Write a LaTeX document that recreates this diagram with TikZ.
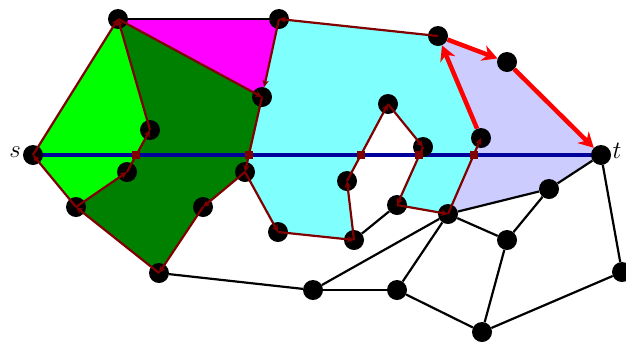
\documentclass[tikz,border=0pt]{standalone}
\usepackage{amsmath,amssymb}
\usetikzlibrary{arrows.meta,backgrounds}
\definecolor{cutGreen}{HTML}{00FF00}
\definecolor{cutDark}{HTML}{008000}
\definecolor{cutMagenta}{HTML}{FF00FF}
\definecolor{cutCyan}{HTML}{80FFFF}
\definecolor{cutLav}{HTML}{CCCCFF}
\definecolor{cutBrown}{HTML}{800000}
\definecolor{cutBlue}{HTML}{00009A}
\definecolor{cutRed}{HTML}{FF0000}
\tikzset{
  % Vertex of the graph: a plain black disc.
  cut/vtx/.style={
    circle, fill=black, minimum size=20pt, inner sep=0pt
  },
  % Face boundaries, oriented; they run into the discs.
  cut/edge/.style={
    -{Stealth[length=7pt,width=6.5pt]}, line width=2.2pt, draw=cutBrown
  },
  % Remaining edges of the graph.
  cut/plain/.style={
    line width=2.2pt, draw=black
  },
  % The path that is picked out.
  cut/path/.style={
    -{Stealth[length=15pt,width=16pt]}, line width=4.5pt, draw=cutRed
  },
  % The s-t segment and where it crosses a boundary.
  cut/line/.style={
    line width=3.2pt, draw=cutBlue
  },
  cut/cross/.style={
    rectangle, fill=cutBrown, minimum size=8pt, inner sep=0pt
  },
  cut/label/.style={
    font=\fontsize{27}{30}\selectfont, inner sep=0pt
  },
}

\begin{document}
\begin{tikzpicture}[x=1pt,y=-1pt]
  \useasboundingbox (0,0) rectangle (626,341);
  \node[cut/vtx] (s)  at (33,155)  {};
  \node[cut/vtx] (t)  at (601,155) {};
  \node[cut/vtx] (a)  at (118,19)  {};
  \node[cut/vtx] (b)  at (279,19)  {};
  \node[cut/vtx] (c)  at (438,36)  {};
  \node[cut/vtx] (d)  at (507,62)  {};
  \node[cut/vtx] (e)  at (150,130) {};
  \node[cut/vtx] (f)  at (127,172) {};
  \node[cut/vtx] (g)  at (76,207)  {};
  \node[cut/vtx] (h)  at (159,273) {};
  \node[cut/vtx] (i)  at (203,207) {};
  \node[cut/vtx] (j)  at (245,172) {};
  \node[cut/vtx] (k)  at (262,97)  {};
  \node[cut/vtx] (l)  at (278,232) {};
  \node[cut/vtx] (m)  at (354,240) {};
  \node[cut/vtx] (n)  at (347,181) {};
  \node[cut/vtx] (o)  at (388,104) {};
  \node[cut/vtx] (p)  at (423,147) {};
  \node[cut/vtx] (q)  at (397,205) {};
  \node[cut/vtx] (r)  at (448,214) {};
  \node[cut/vtx] (sp) at (481,138) {};
  \node[cut/vtx] (u)  at (549,189) {};
  \node[cut/vtx] (v)  at (507,240) {};
  \node[cut/vtx] (w)  at (622,272) {};
  \node[cut/vtx] (x)  at (482,332) {};
  \node[cut/vtx] (y)  at (397,290) {};
  \node[cut/vtx] (z)  at (313,290) {};
  \node[cut/label] (slabel) at (15,152) {$s$};
  \node[cut/label] (tlabel) at (617,151) {$t$};
  % faces
  \begin{scope}[on background layer]
    \fill[cutGreen] (s.center) -- (a.center) -- (e.center) -- (f.center) -- (g.center) -- cycle;
    \fill[cutDark] (a.center) -- (k.center) -- (j.center) -- (i.center) -- (h.center)
      -- (g.center) -- (f.center) -- (e.center) -- cycle;
    \fill[cutMagenta] (a.center) -- (b.center) -- (k.center) -- cycle;
    \fill[cutCyan] (b.center) -- (c.center) -- (sp.center) -- (r.center) -- (q.center)
      -- (p.center) -- (o.center) -- (n.center) -- (m.center) -- (l.center)
      -- (j.center) -- (k.center) -- cycle;
    \fill[cutLav] (c.center) -- (d.center) -- (t.center) -- (u.center) -- (r.center)
      -- (sp.center) -- cycle;
    \draw[cut/line] (s.center) -- (t.center);
  \end{scope}
  \foreach \x/\y in {a/b,h/z,z/y,z/r,y/r,y/x,x/v,x/w,w/t,v/r,v/u,u/t,r/u,m/q}{\draw[cut/plain] (\x) -- (\y);}
  \foreach \x/\y in {g/s,s/a,e/a,f/e,g/f,h/g,i/h,j/i,k/j,a/k,c/b,j/l,l/m,m/n,n/o,o/p,p/q,q/r,r/sp}{\draw[cut/edge] (\x.center) -- (\y.center);}
  \draw[cut/edge] (b.center) -- (k);
  \foreach \x/\y in {sp/c,c/d,d/t}{\draw[cut/path] (\x) -- (\y);}
  \node[cut/cross] (x1) at (intersection of e.center--f.center and s.center--t.center) {};
  \node[cut/cross] (x2) at (intersection of k.center--j.center and s.center--t.center) {};
  \node[cut/cross] (x3) at (intersection of n.center--o.center and s.center--t.center) {};
  \node[cut/cross] (x4) at (intersection of p.center--q.center and s.center--t.center) {};
  \node[cut/cross] (x5) at (intersection of r.center--sp.center and s.center--t.center) {};
\end{tikzpicture}
\end{document}
